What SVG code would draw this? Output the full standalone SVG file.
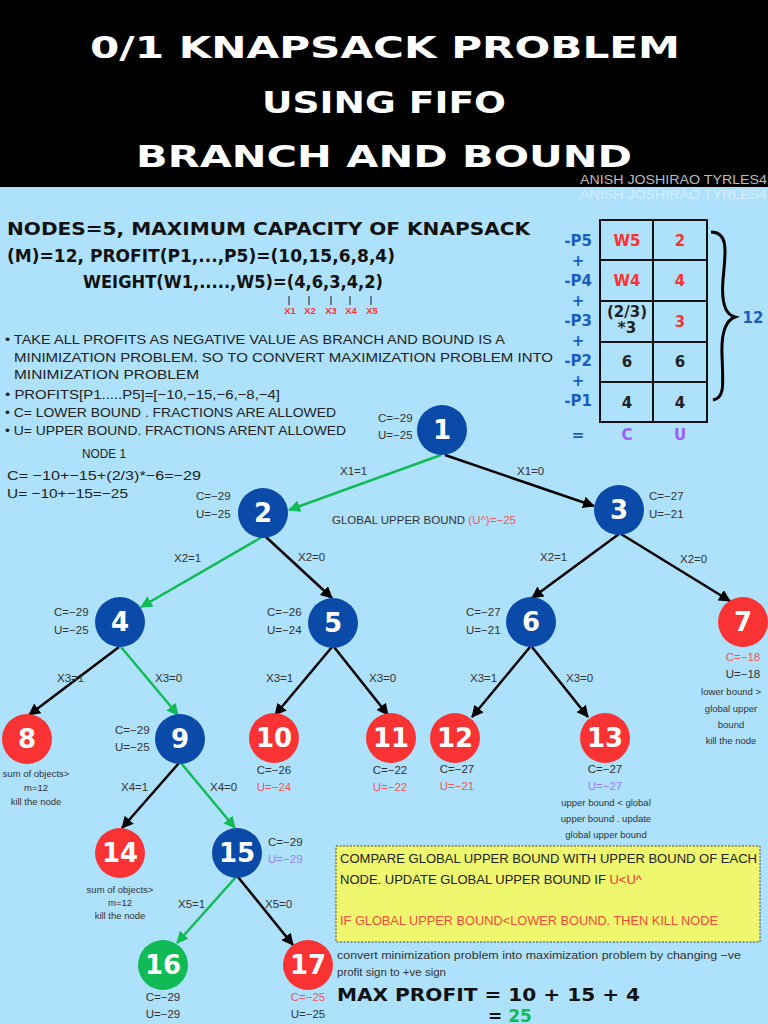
<svg xmlns="http://www.w3.org/2000/svg" width="768" height="1024" viewBox="0 0 768 1024">
<style>
.t{font-family:"Liberation Sans",Arial,sans-serif}
.title{font-family:"DejaVu Sans","Liberation Sans",sans-serif;font-weight:bold;fill:#fff;font-size:30px}
.hd{font-family:"DejaVu Sans","Liberation Sans",sans-serif;font-weight:bold;fill:#111;font-size:17px}
.bl{font-family:"Liberation Sans",Arial,sans-serif;fill:#222;font-size:13px}
.lb{font-family:"Liberation Sans",Arial,sans-serif;fill:#333;font-size:11.5px}
.sm{font-family:"Liberation Sans",Arial,sans-serif;fill:#333;font-size:9.5px;text-anchor:middle}
.num{font-family:"DejaVu Sans","Liberation Sans",sans-serif;font-weight:bold;fill:#fff;font-size:26px;text-anchor:middle;dominant-baseline:central}
.blue{fill:#0a4aa8}.red{fill:#f93333}.green{fill:#10bb55}
.e{stroke:#000;stroke-width:2.5;fill:none;marker-end:url(#ab)}
.g{stroke:#10bb55;stroke-width:2.5;fill:none;marker-end:url(#ag)}
.pk{fill:#ee5a5a}.pu{fill:#9a7dff}
.tb{font-family:"DejaVu Sans","Liberation Sans",sans-serif;font-weight:bold;font-size:15px;text-anchor:middle}
</style>
<defs>
<marker id="ab" markerUnits="userSpaceOnUse" markerWidth="12" markerHeight="12" refX="11" refY="6" orient="auto"><path d="M0,0 L12,6 L0,12 z" fill="#000"/></marker>
<marker id="ag" markerUnits="userSpaceOnUse" markerWidth="12" markerHeight="12" refX="11" refY="6" orient="auto"><path d="M0,0 L12,6 L0,12 z" fill="#10bb55"/></marker>
</defs>
<rect width="768" height="1024" fill="#aee1fb"/>
<rect width="768" height="187" fill="#000"/>
<g id="title">
<text class="title" x="90" y="58" textLength="590" lengthAdjust="spacingAndGlyphs">0/1 KNAPSACK PROBLEM</text>
<text class="title" x="262" y="113" textLength="244" lengthAdjust="spacingAndGlyphs">USING FIFO</text>
<text class="title" x="136" y="167" textLength="496" lengthAdjust="spacingAndGlyphs">BRANCH AND BOUND</text>
<text class="t" x="580" y="184" font-size="12" fill="#bbbbbb" textLength="187" lengthAdjust="spacingAndGlyphs">ANISH JOSHIRAO TYRLES4</text>
<text class="t" x="580" y="199" font-size="12" fill="#d6eefc" textLength="187" lengthAdjust="spacingAndGlyphs">ANISH JOSHIRAO TYRLES4</text>
</g>
<g id="problem">
<text class="hd" x="7" y="235" textLength="523" lengthAdjust="spacingAndGlyphs">NODES=5, MAXIMUM CAPACITY OF KNAPSACK</text>
<text class="hd" x="7" y="262" textLength="388" lengthAdjust="spacingAndGlyphs">(M)=12, PROFIT(P1,...,P5)=(10,15,6,8,4)</text>
<text class="hd" x="83" y="288" textLength="300" lengthAdjust="spacingAndGlyphs">WEIGHT(W1,.....,W5)=(4,6,3,4,2)</text>
<g stroke="#222" stroke-width="1">
<line x1="289" y1="296" x2="289" y2="305"/><line x1="309" y1="296" x2="309" y2="305"/><line x1="331" y1="296" x2="331" y2="305"/><line x1="350" y1="296" x2="350" y2="305"/><line x1="371" y1="296" x2="371" y2="305"/>
</g>
<g class="t" font-size="9.5" font-weight="bold" fill="#f93333" text-anchor="middle">
<text x="290" y="314">X1</text><text x="310" y="314">X2</text><text x="331" y="314">X3</text><text x="351" y="314">X4</text><text x="372" y="314">X5</text>
</g>
</g>
<g id="bullets">
<text class="bl" x="5" y="344" textLength="500" lengthAdjust="spacingAndGlyphs">• TAKE ALL PROFITS AS NEGATIVE VALUE AS BRANCH  AND BOUND IS A</text>
<text class="bl" x="14" y="362" textLength="539" lengthAdjust="spacingAndGlyphs">MINIMIZATION PROBLEM. SO TO CONVERT MAXIMIZATION PROBLEM INTO</text>
<text class="bl" x="14" y="379" textLength="185" lengthAdjust="spacingAndGlyphs">MINIMIZATION PROBLEM</text>
<text class="bl" x="5" y="399" textLength="275" lengthAdjust="spacingAndGlyphs">• PROFITS[P1.....P5]=[−10,−15,−6,−8,−4]</text>
<text class="bl" x="5" y="417" textLength="331" lengthAdjust="spacingAndGlyphs">• C= LOWER BOUND . FRACTIONS ARE ALLOWED</text>
<text class="bl" x="5" y="435" textLength="341" lengthAdjust="spacingAndGlyphs">• U= UPPER BOUND. FRACTIONS ARENT ALLOWED</text>
<text class="bl" x="82" y="458" textLength="44" lengthAdjust="spacingAndGlyphs">NODE 1</text>
<text class="bl" x="7" y="480" textLength="194" lengthAdjust="spacingAndGlyphs">C= −10+−15+(2/3)*−6=−29</text>
<text class="bl" x="7" y="498" textLength="121" lengthAdjust="spacingAndGlyphs">U= −10+−15=−25</text>
</g>
<g id="table">
<rect x="600" y="220" width="107" height="202" fill="none" stroke="#111" stroke-width="2"/>
<g stroke="#111" stroke-width="2">
<line x1="653" y1="220" x2="653" y2="422"/>
<line x1="600" y1="260" x2="707" y2="260"/><line x1="600" y1="301" x2="707" y2="301"/><line x1="600" y1="342" x2="707" y2="342"/><line x1="600" y1="382" x2="707" y2="382"/>
</g>
<text class="tb" x="627" y="246" fill="#f93333">W5</text><text class="tb" x="680" y="246" fill="#f93333">2</text>
<text class="tb" x="627" y="286" fill="#f93333">W4</text><text class="tb" x="680" y="286" fill="#f93333">4</text>
<text class="tb" x="627" y="317" fill="#222" font-size="11">(2/3)</text><text class="tb" x="627" y="333" fill="#222" font-size="11">*3</text><text class="tb" x="680" y="327" fill="#f93333">3</text>
<text class="tb" x="627" y="367" fill="#222">6</text><text class="tb" x="680" y="367" fill="#222">6</text>
<text class="tb" x="627" y="408" fill="#222">4</text><text class="tb" x="680" y="408" fill="#222">4</text>
<g class="tb" fill="#1a5fc0">
<text x="578" y="246">-P5</text><text x="578" y="266">+</text><text x="578" y="286">-P4</text><text x="578" y="306">+</text><text x="578" y="326">-P3</text><text x="578" y="346">+</text><text x="578" y="366">-P2</text><text x="578" y="386">+</text><text x="578" y="406">-P1</text><text x="578" y="440">=</text>
</g>
<text class="tb" x="627" y="440" fill="#9a5cff">C</text><text class="tb" x="680" y="440" fill="#9a5cff">U</text>
<path d="M711,232 C730,232 725,255 723,280 C721,305 727,315 735,317 C727,320 721,330 722,355 C723,385 725,398 713,400" fill="none" stroke="#000" stroke-width="3"/>
<text class="tb" x="753" y="323" fill="#1a5fc0" font-size="17">12</text>
</g>
<g id="connectors">
<line class="g" x1="441" y1="455" x2="289" y2="510"/>
<line class="e" x1="445" y1="455" x2="594" y2="506"/>
<line class="g" x1="262" y1="537" x2="141" y2="607"/>
<line class="e" x1="266" y1="537" x2="332" y2="598"/>
<line class="e" x1="619" y1="534" x2="532" y2="598"/>
<line class="e" x1="621" y1="534" x2="730" y2="601"/>
<line class="e" x1="119" y1="647" x2="29" y2="715"/>
<line class="g" x1="121" y1="647" x2="178" y2="715"/>
<line class="e" x1="332" y1="647" x2="275" y2="715"/>
<line class="e" x1="334" y1="647" x2="388" y2="715"/>
<line class="e" x1="530" y1="647" x2="472" y2="717"/>
<line class="e" x1="532" y1="647" x2="588" y2="717"/>
<line class="e" x1="179" y1="763" x2="122" y2="828"/>
<line class="g" x1="181" y1="763" x2="235" y2="828"/>
<line class="g" x1="236" y1="877" x2="177" y2="943"/>
<line class="e" x1="238" y1="877" x2="293" y2="945"/>
<g class="lb">
<text x="340" y="475">X1=1</text><text x="517" y="475">X1=0</text>
<text x="174" y="562">X2=1</text><text x="298" y="561">X2=0</text>
<text x="540" y="561">X2=1</text><text x="680" y="563">X2=0</text>
<text x="57" y="682">X3=1</text><text x="155" y="682">X3=0</text>
<text x="266" y="682">X3=1</text><text x="369" y="682">X3=0</text>
<text x="470" y="682">X3=1</text><text x="566" y="682">X3=0</text>
<text x="121" y="791">X4=1</text><text x="210" y="791">X4=0</text>
<text x="178" y="908">X5=1</text><text x="265" y="908">X5=0</text>
</g>
<text class="lb" x="332" y="524">GLOBAL UPPER BOUND <tspan fill="#ee5a5a">(U^)=−25</tspan></text>
</g>
<g id="n1"><circle class="blue" cx="442" cy="430" r="25"/><text class="num" x="442" y="430">1</text>
<text class="lb" x="378" y="422">C=−29</text><text class="lb" x="378" y="439">U=−25</text></g>
<g id="n2"><circle class="blue" cx="263" cy="513" r="25"/><text class="num" x="263" y="513">2</text>
<text class="lb" x="196" y="500">C=−29</text><text class="lb" x="196" y="518">U=−25</text></g>
<g id="n3"><circle class="blue" cx="619" cy="510" r="25"/><text class="num" x="619" y="510">3</text>
<text class="lb" x="649" y="500">C=−27</text><text class="lb" x="649" y="518">U=−21</text></g>
<g id="n4"><circle class="blue" cx="120" cy="622" r="25"/><text class="num" x="120" y="622">4</text>
<text class="lb" x="54" y="616">C=−29</text><text class="lb" x="54" y="634">U=−25</text></g>
<g id="n5"><circle class="blue" cx="333" cy="623" r="25"/><text class="num" x="333" y="623">5</text>
<text class="lb" x="267" y="616">C=−26</text><text class="lb" x="267" y="634">U=−24</text></g>
<g id="n6"><circle class="blue" cx="531" cy="622" r="25"/><text class="num" x="531" y="622">6</text>
<text class="lb" x="466" y="616">C=−27</text><text class="lb" x="466" y="634">U=−21</text></g>
<g id="n7"><circle class="red" cx="743" cy="622" r="25"/><text class="num" x="743" y="622">7</text>
<text class="lb pk" x="743" y="661" text-anchor="middle">C=−18</text><text class="lb" x="743" y="678" text-anchor="middle">U=−18</text>
<text class="sm" x="731" y="695">lower bound &gt;</text><text class="sm" x="731" y="712">global upper</text><text class="sm" x="731" y="728">bound</text><text class="sm" x="731" y="744">kill the node</text></g>
<g id="n8"><circle class="red" cx="27" cy="739" r="25"/><text class="num" x="27" y="739">8</text>
<text class="sm" x="36" y="777" font-size="8.5">sum of objects&gt;</text><text class="sm" x="36" y="791" font-size="8.5">m=12</text><text class="sm" x="36" y="805" font-size="8.5">kill the node</text></g>
<g id="n9"><circle class="blue" cx="180" cy="739" r="25"/><text class="num" x="180" y="739">9</text>
<text class="lb" x="115" y="734">C=−29</text><text class="lb" x="115" y="751">U=−25</text></g>
<g id="n10"><circle class="red" cx="274" cy="738" r="25"/><text class="num" x="274" y="738">10</text>
<text class="lb" x="274" y="774" text-anchor="middle">C=−26</text><text class="lb pk" x="274" y="791" text-anchor="middle">U=−24</text></g>
<g id="n11"><circle class="red" cx="391" cy="738" r="25"/><text class="num" x="391" y="738">11</text>
<text class="lb" x="390" y="774" text-anchor="middle">C=−22</text><text class="lb pk" x="390" y="791" text-anchor="middle">U=−22</text></g>
<g id="n12"><circle class="red" cx="455" cy="738" r="25"/><text class="num" x="455" y="738">12</text>
<text class="lb" x="457" y="773" text-anchor="middle">C=−27</text><text class="lb pk" x="457" y="790" text-anchor="middle">U=−21</text></g>
<g id="n13"><circle class="red" cx="605" cy="738" r="25"/><text class="num" x="605" y="738">13</text>
<text class="lb" x="605" y="773" text-anchor="middle">C=−27</text><text class="lb pu" x="605" y="790" text-anchor="middle">U=−27</text>
<text class="sm" x="606" y="806">upper bound &lt; global</text><text class="sm" x="606" y="822">upper bound . update</text><text class="sm" x="606" y="838">global upper bound</text></g>
<g id="n14"><circle class="red" cx="120" cy="853" r="25"/><text class="num" x="120" y="853">14</text>
<text class="sm" x="120" y="893" font-size="8.5">sum of objects&gt;</text><text class="sm" x="120" y="906" font-size="8.5">m=12</text><text class="sm" x="120" y="919" font-size="8.5">kill the node</text></g>
<g id="n15"><circle class="blue" cx="237" cy="853" r="25"/><text class="num" x="237" y="853">15</text>
<text class="lb" x="268" y="846">C=−29</text><text class="lb pu" x="268" y="863">U=−29</text></g>
<g id="n16"><circle class="green" cx="163" cy="965" r="25"/><text class="num" x="163" y="965">16</text>
<text class="lb" x="163" y="1001" text-anchor="middle">C=−29</text><text class="lb" x="163" y="1018" text-anchor="middle">U=−29</text></g>
<g id="n17"><circle class="red" cx="308" cy="965" r="25"/><text class="num" x="308" y="965">17</text>
<text class="lb pk" x="308" y="1001" text-anchor="middle">C=−25</text><text class="lb" x="308" y="1018" text-anchor="middle">U=−25</text></g>
<g id="note">
<rect x="336" y="846" width="424" height="96" fill="#eef76e" stroke="#444" stroke-width="1" stroke-dasharray="2,1.5"/>
<text class="bl" x="340" y="863" fill="#333" textLength="417" lengthAdjust="spacingAndGlyphs">COMPARE GLOBAL UPPER BOUND WITH UPPER BOUND OF EACH</text>
<text class="bl" x="340" y="884" fill="#333">NODE. UPDATE GLOBAL UPPER BOUND IF <tspan fill="#f93333">U&lt;U^</tspan></text>
<text class="bl" x="340" y="925" style="fill:#f94a3a" textLength="378" lengthAdjust="spacingAndGlyphs">IF GLOBAL UPPER BOUND&lt;LOWER BOUND. THEN KILL NODE</text>
</g>
<g id="result">
<text class="lb" x="337" y="959" textLength="404" lengthAdjust="spacingAndGlyphs">convert minimization problem into maximization problem by changing −ve</text>
<text class="lb" x="337" y="976">profit sign to +ve sign</text>
<text class="hd" x="337" y="1001" font-size="19" textLength="303" lengthAdjust="spacingAndGlyphs">MAX PROFIT = 10 + 15 + 4</text>
<text class="hd" x="488" y="1022" font-size="19">= <tspan fill="#10bb55">25</tspan></text>
</g>
</svg>
